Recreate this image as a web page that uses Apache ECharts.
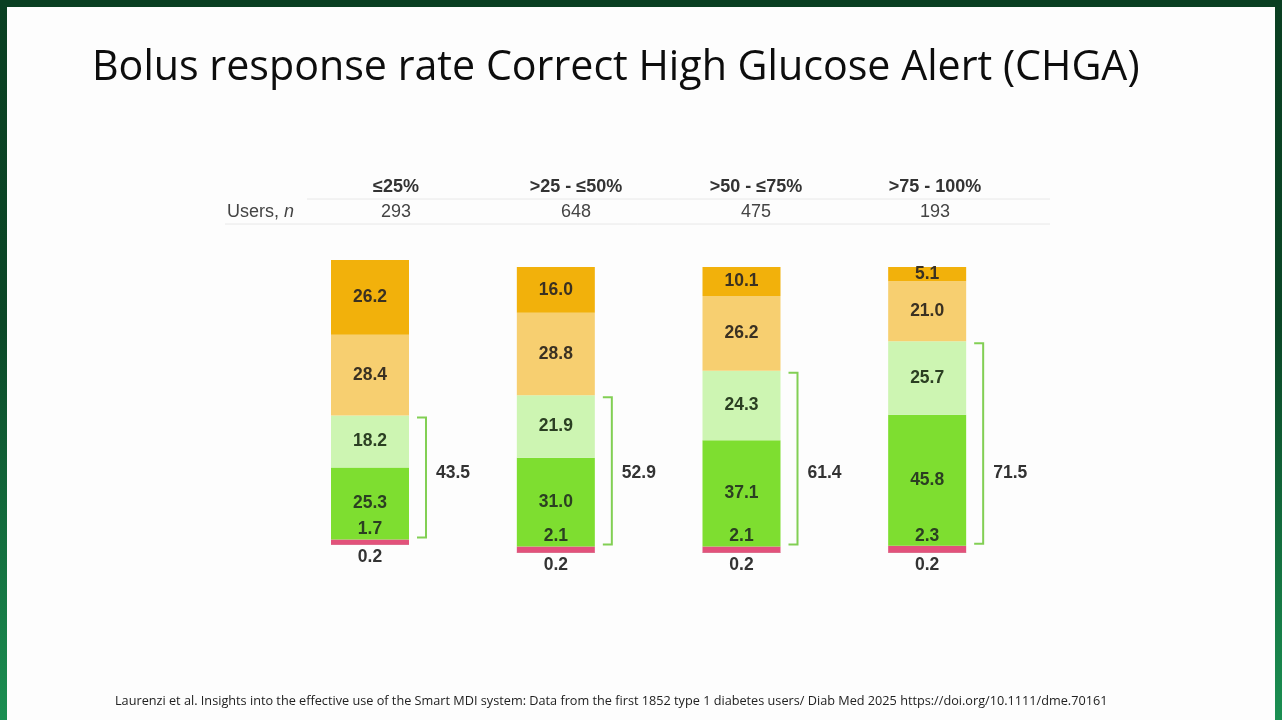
<!DOCTYPE html>
<html>
<head>
<meta charset="utf-8">
<script src="https://cdn.jsdelivr.net/npm/echarts@6/dist/echarts.min.js"></script>
<style>
  html, body { margin: 0; padding: 0; background: #fff; }
  #chart { width: 1282px; height: 720px; }
</style>
</head>
<body>
<div id="chart"></div>
<script>
// categories and header table
var groups = ['≤25%', '>25 - ≤50%', '>50 - ≤75%', '>75 - 100%'];
var users = [293, 648, 475, 193];

// stacked segments, bottom to top (%)
var segRest   = [0.2, 0.2, 0.2, 0.2];
var segPink   = [1.7, 2.1, 2.1, 2.3];
var segGreen  = [25.3, 31.0, 37.1, 45.8];
var segLight  = [18.2, 21.9, 24.3, 25.7];
var segPale   = [28.4, 28.8, 26.2, 21.0];
var segOrange = [26.2, 16.0, 10.1, 5.1];
// bracket totals (green + light green)
var bracketTotals = [43.5, 52.9, 61.4, 71.5];

var colCenters = [396, 576, 756, 935];
var grids = [
    {left: 277, width: 186, top: 260, height: 285},
    {left: 463, width: 557, top: 267, height: 286}
];
var gridCats = [[0], [1, 2, 3]];

var segs = [
    {data: segRest,   color: '#b3123f', label: {show: true, position: 'bottom', distance: 3, color: '#333'}},
    {data: segPink,   color: '#e2527b', label: {show: true, position: 'top', distance: 1, color: '#2b3f22'}},
    {data: segGreen,  color: '#7ede30', label: {show: true, position: 'inside', color: '#2b3f22'}},
    {data: segLight,  color: '#cdf5b2', label: {show: true, position: 'inside', color: '#2b3f22'}},
    {data: segPale,   color: '#f7cf70', label: {show: true, position: 'inside', color: '#3a3122'}},
    {data: segOrange, color: '#f2b10b', label: {show: true, position: 'inside', color: '#3a3122'}}
];

var myChart = echarts.init(document.getElementById('chart'));

var xAxis = [], yAxis = [], series = [];
grids.forEach(function(g, gi){
    var cats = gridCats[gi];
    xAxis.push({type: 'category', gridIndex: gi, data: cats.map(function(i){ return groups[i]; }), show: false});
    yAxis.push({type: 'value', gridIndex: gi, min: 0, max: 100, show: false});
    segs.forEach(function(s, si){
        series.push({
            type: 'bar',
            xAxisIndex: gi,
            yAxisIndex: gi,
            stack: 'g' + gi,
            barWidth: 78,
            silent: true,
            data: cats.map(function(i){ return s.data[i]; }),
            itemStyle: {color: s.color},
            label: Object.assign({
                fontFamily: 'Liberation Sans, Arial, sans-serif',
                fontSize: 17.5,
                fontWeight: 'bold',
                formatter: function(p){ return p.value.toFixed(1); }
            }, s.label)
        });
    });
    // brackets
    series.push({
        type: 'custom',
        xAxisIndex: gi,
        yAxisIndex: gi,
        silent: true,
        data: cats.map(function(i, k){
            var base = segRest[i] + segPink[i];
            return [k, base, base + segGreen[i] + segLight[i], bracketTotals[i]];
        }),
        renderItem: function(params, api){
            var p0 = api.coord([api.value(0), api.value(1)]);
            var p1 = api.coord([api.value(0), api.value(2)]);
            var right = p0[0] + 39;
            var vx = right + 17;
            var yb = p0[1] - 2, yt = p1[1] + 2;
            var st = {stroke: '#82cf54', lineWidth: 2, fill: null};
            return {
                type: 'group',
                children: [
                    {type: 'polyline', shape: {points: [[vx - 9, yt], [vx, yt], [vx, yb], [vx - 9, yb]]}, style: st},
                    {type: 'text', style: {
                        text: api.value(3).toFixed(1), x: vx + 10, y: 473,
                        verticalAlign: 'middle', align: 'left',
                        fill: '#333', font: 'bold 17.5px "Liberation Sans", Arial, sans-serif'
                    }}
                ]
            };
        }
    });
});

// header table and slide texts
var graphics = [
    {type: 'rect', shape: {x: 0, y: 0, width: 1282, height: 720}, z: -10,
     style: {fill: new echarts.graphic.LinearGradient(0, 0, 0, 1, [
        {offset: 0, color: '#0a3f22'}, {offset: 0.45, color: '#0b4727'},
        {offset: 1, color: '#1b8f52'}])}},
    {type: 'rect', shape: {x: 7, y: 7, width: 1268, height: 713}, z: -9, style: {fill: '#fdfdfd'}},
    {type: 'text', x: 92, y: 68, style: {
        text: 'Bolus response rate Correct High Glucose Alert (CHGA)',
        font: '41.2px "Open Sans", sans-serif', fill: '#0d0d0d', verticalAlign: 'middle'}},
    {type: 'text', x: 115, y: 701, style: {
        text: 'Laurenzi et al. Insights into the effective use of the Smart MDI system: Data from the first 1852 type 1 diabetes users/ Diab Med 2025 https://doi.org/10.1111/dme.70161',
        font: '12.7px "Open Sans", sans-serif', fill: '#222', verticalAlign: 'middle'}},
    {type: 'line', shape: {x1: 307, y1: 199, x2: 1050, y2: 199}, style: {stroke: '#e8e8e8', lineWidth: 1}},
    {type: 'line', shape: {x1: 225, y1: 224, x2: 1050, y2: 224}, style: {stroke: '#e8e8e8', lineWidth: 1}},
    {type: 'text', x: 227, y: 212, style: {
        text: 'Users, {i|n}', fill: '#444', verticalAlign: 'middle',
        font: '18px "Liberation Sans", Arial, sans-serif',
        rich: {i: {fontStyle: 'italic', fontSize: 18, fontFamily: 'Liberation Sans', fill: '#444'}}}}
];
groups.forEach(function(g, i){
    graphics.push({type: 'text', x: colCenters[i], y: 187, style: {
        text: g, align: 'center', verticalAlign: 'middle', fill: '#333',
        font: 'bold 18px "Liberation Sans", Arial, sans-serif'}});
    graphics.push({type: 'text', x: colCenters[i], y: 212, style: {
        text: String(users[i]), align: 'center', verticalAlign: 'middle', fill: '#444',
        font: '18px "Liberation Sans", Arial, sans-serif'}});
});

var option = {
    animation: false,
    grid: grids,
    xAxis: xAxis,
    yAxis: yAxis,
    graphic: graphics,
    series: series
};
myChart.setOption(option);
window.onresize = myChart.resize;
</script>
</body>
</html>
